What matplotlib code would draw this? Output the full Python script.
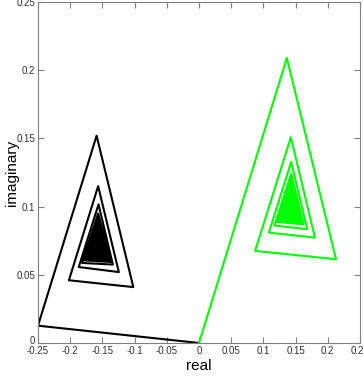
import matplotlib
matplotlib.use("Agg")
import matplotlib.pyplot as plt
import matplotlib.transforms as mtransforms

plt.rcParams['font.family'] = ['Liberation Sans', 'DejaVu Sans']
plt.rcParams['axes.unicode_minus'] = False

# black orbit: start, far left corner, then (top, right, left) vertices of each loop
black_x = [0.0, -0.25,
           -0.159, -0.102, -0.202,
           -0.1566, -0.1245, -0.1867,
           -0.1560, -0.1338, -0.1815,
           -0.1566, -0.1370, -0.1784,
           -0.1566, -0.1385, -0.1770,
           -0.1568, -0.1395, -0.1760,
           -0.1569, -0.1405, -0.1748,
           -0.1570, -0.1418, -0.1735,
           -0.1571, -0.1430, -0.1720,
           -0.1572, -0.1445, -0.1705,
           -0.1573, -0.1460, -0.1690,
           -0.1574, -0.1478, -0.1672,
           -0.1575, -0.1500, -0.1652,
           -0.1575, -0.1525, -0.1625,
           -0.1575, -0.1545, -0.1605,
           -0.1575, -0.1560, -0.1590]
black_y = [0.0, 0.0127,
           0.152, 0.041, 0.046,
           0.115, 0.052, 0.0557,
           0.1017, 0.0575, 0.0587,
           0.0949, 0.0594, 0.0606,
           0.0912, 0.0605, 0.0612,
           0.0890, 0.0612, 0.0618,
           0.0870, 0.0620, 0.0625,
           0.0850, 0.0628, 0.0632,
           0.0830, 0.0636, 0.0640,
           0.0810, 0.0645, 0.0648,
           0.0790, 0.0655, 0.0658,
           0.0770, 0.0665, 0.0668,
           0.0750, 0.0677, 0.0679,
           0.0732, 0.0690, 0.0692,
           0.0718, 0.0698, 0.0700,
           0.0710, 0.0703, 0.0704]

# green orbit: start, then (top, right, left) vertices of each loop
green_x = [0.0,
           0.1364, 0.2127, 0.0871,
           0.1426, 0.1800, 0.1084,
           0.1431, 0.1680, 0.1172,
           0.1431, 0.1623, 0.1209,
           0.1426, 0.1600, 0.1225,
           0.1425, 0.1590, 0.1235,
           0.1424, 0.1578, 0.1248,
           0.1423, 0.1565, 0.1262,
           0.1422, 0.1550, 0.1278,
           0.1421, 0.1535, 0.1295,
           0.1420, 0.1518, 0.1315,
           0.1420, 0.1498, 0.1338,
           0.1420, 0.1475, 0.1362,
           0.1420, 0.1455, 0.1385,
           0.1420, 0.1440, 0.1400]
green_y = [0.0,
           0.209, 0.0614, 0.0675,
           0.1508, 0.0773, 0.0809,
           0.1327, 0.0834, 0.0861,
           0.1242, 0.0870, 0.0887,
           0.1205, 0.0885, 0.0897,
           0.1180, 0.0895, 0.0905,
           0.1155, 0.0905, 0.0913,
           0.1130, 0.0915, 0.0922,
           0.1105, 0.0926, 0.0932,
           0.1080, 0.0938, 0.0943,
           0.1058, 0.0950, 0.0955,
           0.1038, 0.0962, 0.0966,
           0.1020, 0.0975, 0.0978,
           0.1005, 0.0985, 0.0987,
           0.0995, 0.0990, 0.0991]

xticks = [-0.25, -0.2, -0.15, -0.1, -0.05, 0, 0.05, 0.1, 0.15, 0.2, 0.25]
xtick_labels = ['-0.25', '-0.2', '-0.15', '-0.1', '-0.05', '0', '0.05', '0.1', '0.15', '0.2', '0.25']
yticks = [0, 0.05, 0.1, 0.15, 0.2, 0.25]
ytick_labels = ['0', '0.05', '0.1', '0.15', '0.2', '0.25']

fig = plt.figure(figsize=(3.63, 3.77), dpi=100)
ax = fig.add_axes([38 / 363, 34 / 377, 322 / 363, 341 / 377])

ax.plot(black_x, black_y, color='black', lw=1.5)
ax.plot(green_x, green_y, color='#00ff00', lw=1.5)

ax.set_xlim(-0.25, 0.25)
ax.set_ylim(0, 0.25)
ax.set_xticks(xticks)
ax.set_xticklabels(xtick_labels)
ax.set_yticks(yticks)
ax.set_yticklabels(ytick_labels)
ax.tick_params(direction='in', length=4, width=0.8, color='#808080',
               labelsize=7, labelcolor='#333333', top=True, right=True, pad=2)
for s in ax.spines.values():
    s.set_color('#808080')
    s.set_linewidth(0.8)

# lift the y "0" a little so it sits above the x labels, like the original
zero_lbl = ax.get_yticklabels()[0]
zero_lbl.set_transform(zero_lbl.get_transform() +
                       mtransforms.ScaledTranslation(0, 3 / 100, fig.dpi_scale_trans))

ax.set_xlabel('real', fontsize=11, labelpad=2)
ax.set_ylabel('imaginary', fontsize=11, labelpad=-2)

fig.savefig('out.png', dpi=100)
